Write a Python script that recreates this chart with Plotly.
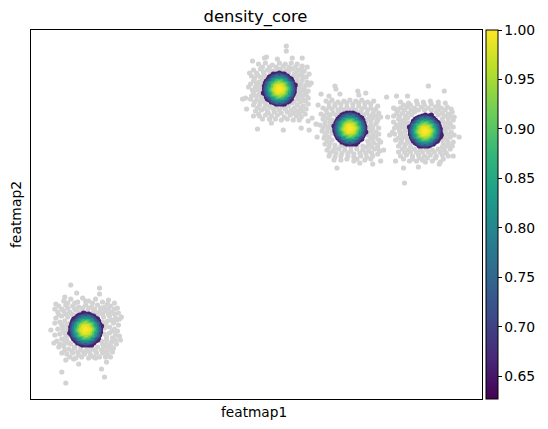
import plotly.graph_objects as go

# Embedding positions of cells below the density threshold, one list per cluster
gray_a = [(33,98),(40,100),(47,97),(52,101),(58,98),(65,100),(72,97),(78,99),(84,96),
          (28,93),(35,94),(42,93),(48,92),(55,94),(61,92),(67,94),(74,92),(80,93),
          (27,87),(33,88),(39,87),(45,89),(51,87),(57,88),(63,88),(69,87),(75,88),(81,87),(88,86),
          (25,81),(31,83),(37,82),(43,84),(67,83),(73,82),(79,83),(85,81),(91,82),
          (29,77),(34,78),(39,76),(72,77),(77,78),(83,76),(88,74),
          (27,70),(32,72),(37,70),(74,71),(79,72),(84,70),
          (29,65),(34,66),(38,64),(74,65),(79,66),(85,64),(89,63),
          (26,58),(31,60),(36,59),(40,55),(71,58),(76,59),(81,57),(85,59),(90,59),
          (28,52),(33,53),(38,50),(44,51),(50,49),(56,49),(62,50),(67,52),(73,52),(78,52),(83,51),
          (31,46),(36,45),(42,46),(48,44),(54,45),(60,44),(66,46),(72,46),(77,45),(82,47),
          (40,114),(69,111),(69,105),(34,102),(46,106),(25,95),(24,90),(87,91),(20,69),
          (35,39),(43,40),(48,35),(71,30),(74,22),(31,27),(35,16),(80,42),(65,41),(76,37),
          (37,96),(44,96),(55,98),(62,96),(70,91),(77,95),(31,90),(37,91),(44,90),(52,91),(58,91),(64,90),
          (71,90),(78,90),(84,90),(28,84),(35,85),(41,85),(48,87),(60,85),(66,86),(72,85),(78,85),(84,85),
          (89,80),(24,76),(31,74),(36,74),(75,75),(81,79),(86,79),(24,64),(32,69),(35,62),(76,62),(82,68),
          (87,68),(82,61),(23,56),(29,55),(34,56),(38,56),(72,55),(76,55),(80,54),(86,55),(34,49),(41,48),
          (47,47),(53,47),(59,47),(65,48),(71,49),(76,48),(81,49),(39,42),(45,41),(51,42),(58,41),(63,42),
          (69,42),(75,42),(44,52),(60,52),(50,52)]
gray_b = [(229,335),(236,336),(243,334),(250,336),(256,335),(262,336),(268,335),(273,333),
          (224,329),(231,330),(238,329),(244,328),(251,330),(257,329),(263,330),(269,329),(275,328),
          (222,323),(228,324),(235,324),(241,325),(259,326),(265,325),(271,324),(277,322),
          (224,318),(229,317),(233,319),(268,318),(273,319),(278,317),
          (226,312),(231,312),(270,312),(275,311),(280,314),
          (224,306),(230,305),(271,306),(276,307),
          (221,300),(227,299),(232,301),(269,300),(274,299),(279,301),
          (224,294),(230,294),(236,295),(263,296),(268,294),(274,293),(279,295),
          (226,288),(232,289),(238,288),(244,290),(250,289),(256,290),(262,289),(268,288),(273,288),
          (224,283),(230,283),(236,284),(242,283),(248,284),(255,282),(261,284),(267,283),(272,282),
          (257,353),(257,348),(237,342),(235,341),(223,338),(248,340),(263,341),(273,341),(220,326),
          (278,332),(282,316),(219,312),(216,301),(213,300),(217,290),(228,270),(242,276),(254,269),
          (272,271),(279,278),(283,281),(287,275),(280,269),
          (233,332),(240,332),(247,332),(254,333),(260,332),(266,332),(272,330),(227,326),(234,327),(241,328),
          (248,328),(254,327),(260,328),(267,327),(273,326),(280,325),(225,321),(231,322),(237,322),(263,322),
          (268,322),(274,322),(221,315),(227,315),(232,315),(267,315),(272,315),(277,314),(223,309),(228,309),
          (233,308),(268,309),(273,309),(279,308),(222,303),(227,303),(232,304),(268,303),(273,303),(277,304),
          (225,297),(231,297),(236,298),(240,293),(265,298),(271,297),(276,298),(228,291),(235,291),(241,292),
          (247,292),(253,292),(259,293),(265,291),(271,291),(277,290),(229,285),(239,286),(245,287),(252,286),
          (258,287),(264,286),(270,285),(276,285),(233,280),(240,280),(246,280),(252,279),(258,280),(264,279),
          (270,279)]
gray_c = [(297,298),(303,299),(309,297),(315,298),(321,299),(327,298),(333,299),(339,297),(345,298),
          (294,291),(300,292),(306,293),(312,291),(318,292),(324,291),(330,293),(336,292),(342,291),(347,290),
          (292,285),(298,286),(304,286),(310,287),(332,287),(338,286),(344,285),(350,286),
          (294,280),(299,281),(303,279),(339,280),(344,281),(349,279),
          (291,274),(296,274),(301,274),(342,274),(347,275),
          (293,268),(298,267),(342,268),(347,267),
          (295,261),(300,262),(342,261),(347,262),
          (296,255),(301,256),(306,254),(340,255),(345,256),(349,254),
          (298,249),(304,248),(310,250),(316,249),(322,248),(328,250),(334,249),(340,248),(346,250),
          (300,243),(306,242),(312,243),(319,243),(325,242),(332,243),(338,242),(344,243),
          (306,313),(307,310),(292,305),(300,303),(311,305),(329,308),(330,304),(337,306),(349,293),
          (289,294),(287,275),(288,262),(352,257),(355,249),(351,248),(352,238),(308,231),(344,235),
          (331,236),(328,240),
          (300,296),(306,295),(312,295),(318,296),(324,295),(330,296),(336,296),(342,295),(297,289),(303,290),
          (309,289),(315,289),(321,289),(327,289),(333,290),(339,289),(345,288),(295,283),(301,284),(307,284),
          (335,284),(341,283),(347,283),(352,282),(296,277),(301,277),(305,276),(337,277),(342,278),(348,277),
          (294,271),(299,271),(303,269),(339,271),(344,271),(350,271),(296,264),(303,266),(339,264),(344,264),
          (350,265),(298,258),(303,259),(339,258),(344,259),(350,259),(300,252),(306,251),(312,253),(338,252),
          (343,252),(349,251),(301,246),(307,246),(313,246),(319,246),(325,245),(331,246),(337,246),(343,246),
          (349,245),(305,239),(312,239),(318,240),(325,238),(336,239),(342,240),(316,253),(322,252),(328,253),
          (334,253)]
gray_d = [(372,297),(380,296),(388,298),(395,297),(402,298),(410,297),
          (365,291),(372,291),(379,292),(386,291),(393,292),(400,291),(407,292),(413,291),(419,292),
          (368,285),(374,286),(380,286),(386,287),(408,287),(414,286),(420,285),(424,287),
          (370,280),(375,279),(379,281),(414,280),(420,281),(425,279),
          (368,274),(373,274),(377,274),(417,274),(422,275),
          (371,268),(376,267),(417,268),(423,267),
          (370,261),(375,262),(417,261),(422,262),
          (372,256),(377,255),(382,256),(415,255),(420,256),(425,257),
          (374,250),(380,249),(386,250),(392,249),(398,250),(404,249),(410,250),(416,249),(422,250),
          (372,243),(378,244),(384,243),(390,244),(396,243),(402,244),(408,243),(414,244),(420,243),
          (381,238),(388,238),(394,239),(404,238),(412,237),
          (400,313),(416,308),(358,302),(368,303),(379,303),(431,262),(426,282),(376,216),(375,231),
          (367,238),(390,232),(411,235),(397,237),(425,243),(361,264),(364,267),(359,282),(367,290),
          (375,294),(382,294),(389,295),(396,294),(403,295),(410,294),(417,296),(369,288),(376,289),(383,289),
          (390,289),(396,289),(403,289),(410,289),(417,289),(423,290),(365,283),(371,283),(377,283),(383,284),
          (410,284),(416,283),(422,283),(365,277),(372,277),(377,277),(381,276),(415,277),(420,277),
          (366,271),(371,271),(376,271),(380,269),(415,271),(420,271),(425,272),(366,265),(372,265),
          (378,263),(415,265),(420,265),(426,264),(367,259),(373,259),(379,259),(414,259),(419,259),
          (370,253),(376,252),(382,252),(414,252),(419,253),(424,253),(370,247),(376,247),(382,247),
          (388,247),(394,247),(400,247),(406,247),(412,247),(418,246),(375,240),(384,240),(391,241),
          (399,241),(407,241),(415,240)]

# Outermost cells that still pass the threshold, one list per cluster
edge_a = [(70,70),(69,75),(67,80),(63,83),(58,85),(52,85),(47,83),(43,80),(41,75),
          (40,69),(41,64),(43,60),(47,56),(52,54),(58,54),(63,56),(67,59),(69,64),
          (70,72),(68,78),(65,81),(60,84),(55,85),(49,84),(45,81),(42,78),(40,72),
          (40,66),(42,62),(45,58),(50,55),(55,54),(60,55),(65,58),(68,61),(70,67),
          (71,73),(53,86),(39,66),(61,54)]
edge_b = [(265,310),(264,315),(262,320),(258,323),(253,325),(247,325),(242,323),(239,320),(236,316),
          (235,310),(236,305),(238,300),(242,297),(247,295),(253,295),(258,297),(262,300),(264,305),
          (265,312),(263,318),(260,321),(255,325),(250,326),(244,324),(240,322),(237,318),(235,313),
          (235,307),(237,302),(240,299),(245,296),(250,295),(255,296),(260,298),(263,303),(265,307),
          (266,314),(244,325),(234,306),(255,295)]
edge_c = [(336,271),(335,276),(333,281),(329,284),(324,286),(318,285),(313,284),(309,280),(307,276),
          (306,270),(307,265),(309,261),(313,257),(318,255),(324,255),(329,257),(333,260),(335,265),
          (336,273),(334,279),(331,282),(326,285),(321,286),(315,285),(311,282),(308,278),(306,273),
          (306,268),(308,263),(311,259),(316,256),(321,255),(326,256),(331,259),(334,263),(336,268),
          (337,267),(318,286),(305,273),(327,255)]
edge_d = [(412,267),(411,273),(409,277),(405,281),(400,283),(394,283),(389,281),(385,278),(383,273),
          (382,268),(383,262),(385,258),(389,255),(394,253),(400,253),(405,255),(409,258),(412,262),
          (412,270),(410,276),(407,279),(402,283),(397,284),(391,282),(387,280),(384,275),(382,270),
          (382,265),(384,260),(387,256),(392,254),(397,253),(402,254),(407,257),(410,260),(412,265),
          (413,264),(403,284),(381,272),(391,253)]
edge_density = 0.66

# Cluster centres and the shared core profile around them: (density, offsets), low density first
centres = [(55,69.5),(250,310),(321,270.5),(396.5,268)]
core_rings = [
    (.70, [(14,0),(13,4),(11,8),(8,11),(4,13),(0,14),(-4,13),(-8,11),(-11,8),(-13,4),
           (-14,0),(-13,-4),(-11,-8),(-8,-11),(-4,-13),(0,-14),(4,-13),(8,-11),(11,-8),(13,-4)]),
    (.73, [(13,2),(12,6),(9,9),(6,12),(2,13),(-2,13),(-6,12),(-9,9),(-12,6),(-13,2),
           (-13,-2),(-12,-6),(-9,-9),(-6,-12),(-2,-13),(2,-13),(6,-12),(9,-9),(12,-6),(13,-2)]),
    (.76, [(12,0),(11,5),(7,9),(3,12),(-3,12),(-7,9),(-11,5),(-12,0),(-11,-5),(-7,-9),(-3,-12),(3,-12),(7,-9),(11,-5)]),
    (.79, [(11,2),(9,6),(6,9),(2,11),(-2,11),(-6,9),(-9,6),(-11,2),(-11,-2),(-9,-6),(-6,-9),(-2,-11),(2,-11),(6,-9),(9,-6),(11,-2)]),
    (.82, [(10,0),(9,5),(5,9),(0,10),(-5,9),(-9,5),(-10,0),(-9,-5),(-5,-9),(0,-10),(5,-9),(9,-5)]),
    (.85, [(9,2),(7,6),(3,8),(-3,8),(-7,6),(-9,2),(-9,-2),(-7,-6),(-3,-8),(3,-8),(7,-6),(9,-2)]),
    (.88, [(8,0),(6,5),(2,8),(-2,8),(-6,5),(-8,0),(-6,-5),(-2,-8),(2,-8),(6,-5)]),
    (.905, [(7,1),(5,5),(1,7),(-3,6),(-6,3),(-7,-1),(-5,-5),(-1,-7),(3,-6),(6,-3)]),
    (.93, [(6,0),(4,4),(0,6),(-4,4),(-6,0),(-4,-4),(0,-6),(4,-4)]),
    (.95, [(5,1),(3,4),(-1,5),(-4,3),(-5,-1),(-3,-4),(1,-5),(4,-3)]),
    (.97, [(4,0),(2,3),(-2,3),(-4,0),(-2,-3),(2,-3)]),
    (.98, [(3,0),(1,3),(-2,2),(-3,-1),(-1,-3),(2,-2)]),
    (.99, [(2,0),(-1,2),(-1,-2)]),
    (1.0, [(0,0)]),
]

title_text = "density_core"
x_label = "featmap1"
y_label = "featmap2"
colorbar_ticks = [0.65, 0.70, 0.75, 0.80, 0.85, 0.90, 0.95, 1.00]
density_range = (0.627, 1.0)

gray_pts = gray_a + gray_b + gray_c + gray_d
edge_pts = edge_a + edge_b + edge_c + edge_d

# Edge cells go down first so that denser cells are painted on top of them
core_x = [p[0] for p in edge_pts]
core_y = [p[1] for p in edge_pts]
core_v = [edge_density] * len(edge_pts)
for v, offsets in core_rings:
    for dx, dy in offsets:
        for cx, cy in centres:
            core_x.append(cx + dx)
            core_y.append(cy + dy)
            core_v.append(v)

FONT = "DejaVu Sans"

fig = go.Figure()
fig.add_trace(go.Scatter(
    x=[p[0] for p in gray_pts], y=[p[1] for p in gray_pts], mode="markers",
    marker=dict(color="#d3d3d3", size=5.2, line=dict(width=0)),
    hoverinfo="skip", showlegend=False,
))
fig.add_trace(go.Scatter(
    x=core_x, y=core_y, mode="markers",
    marker=dict(
        color=core_v, colorscale="Viridis", cmin=density_range[0], cmax=density_range[1],
        size=5.2, line=dict(width=0),
        colorbar=dict(
            thickness=12, len=1, lenmode="fraction", x=1.008, xanchor="left", xpad=0,
            y=0.5, yanchor="middle", ypad=0,
            outlinewidth=1, outlinecolor="black", ticks="outside", ticklen=3.5, tickwidth=0.8,
            tickcolor="black", tickvals=colorbar_ticks, tickformat=".2f",
            tickfont=dict(family=FONT, size=13.9, color="black"),
        ),
    ),
    showlegend=False,
))
fig.update_layout(
    width=548, height=429,
    margin=dict(l=31, r=64, t=30, b=30),
    paper_bgcolor="white", plot_bgcolor="white",
    title=dict(text=title_text, x=255.5 / 548, xanchor="center", y=1 - 16 / 429, yanchor="middle",
               font=dict(family=FONT, size=16.4, color="black")),
    xaxis=dict(range=[0, 454], showgrid=False, zeroline=False, showticklabels=False, ticks="",
               showline=True, mirror=True, linecolor="black", linewidth=1),
    yaxis=dict(range=[0, 369], showgrid=False, zeroline=False, showticklabels=False, ticks="",
               showline=True, mirror=True, linecolor="black", linewidth=1,
               title=dict(text=y_label, standoff=5, font=dict(family=FONT, size=13.9, color="black"))),
    annotations=[dict(text=x_label, xref="paper", yref="paper", x=223.5 / 453, y=0,
                      xanchor="center", yanchor="top", yshift=-3, showarrow=False,
                      font=dict(family=FONT, size=13.7, color="black"))],
)
fig.write_html("out.html")
